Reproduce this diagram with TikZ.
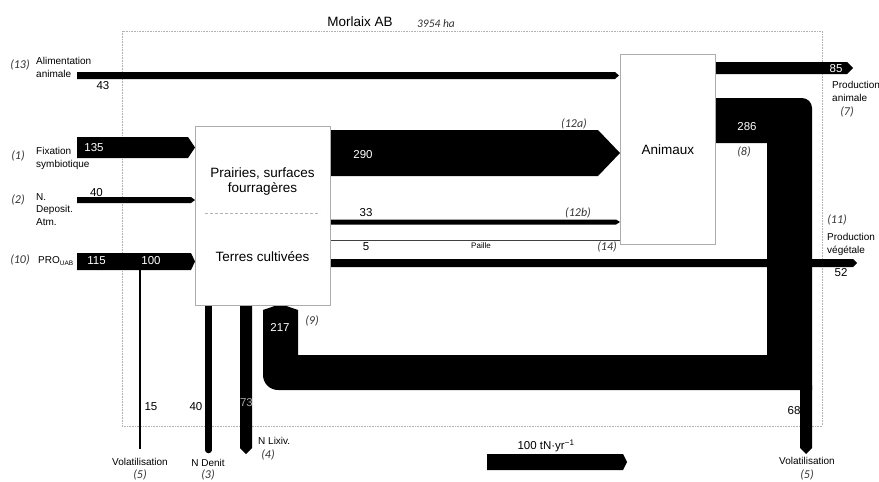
\documentclass[tikz,border=0pt]{standalone}
\usepackage{fontspec}
\setmainfont{Liberation Sans}
\newfontfamily\calibri{Carlito}
\begin{document}
\begin{tikzpicture}[x=1pt, y=-1pt,
			flusso/.style={fill=black, draw=none},
			filo/.style={line width=2.4pt, black},
			paglia/.style={line width=0.8pt, black!75},
			scatola/.style={draw=gray!65, line width=0.8pt, fill=white, inner sep=0pt, anchor=north west},
			confine/.style={draw=gray!60, line width=0.6pt, densely dotted},
			divisore/.style={draw=gray!60, line width=0.6pt, densely dashed},
			lab/.style={font=\fontsize{10}{12.5}\selectfont, align=left, inner sep=0pt},
			labc/.style={lab, align=center},
			num/.style={font=\fontsize{11.5}{13}\selectfont, inner sep=0pt},
			numb/.style={num, text=white},
			rif/.style={font=\calibri\itshape\fontsize{12}{14}\selectfont, inner sep=0pt, text=black!80},
			titolo/.style={font=\fontsize{13.5}{16}\selectfont, align=center, inner sep=0pt},
			]
			
			\useasboundingbox (0,0) rectangle (879,482);
			
			\def\xin{77}      % inizio dei flussi in entrata
			\def\xS{330}      % bordo destro del box suolo
			\def\xA{620}      % bordo sinistro del box animali
			
			%%═══ CONFINE DEL TERRITORIO ══════════════════════════════════════
			\draw[confine] (122,31) rectangle (822,426);
			\node[titolo] (nome) at (360,22) {Morlaix AB};
			\node[rif, font=\calibri\itshape\fontsize{11.5}{13}\selectfont] (sup) at (436,24) {3954 ha};
			
			%%═══ FLUSSI IN ENTRATA ═══════════════════════════════════════════
			% (13) alimentazione animale
			\fill[flusso] (\xin,72) -- (615,72) -- (619,75.5) -- (615,79) -- (\xin,79) -- cycle;
			% (1) fissazione
			\fill[flusso] (\xin,137) -- (188,137) -- (195,147.5) -- (188,158) -- (\xin,158) -- cycle;
			% (2) deposizione atmosferica
			\fill[flusso] (\xin,197) -- (191,197) -- (195,200) -- (191,203) -- (\xin,203) -- cycle;
			% (10) PRO
			\fill[flusso] (\xin,253) -- (191,253) -- (195,261.5) -- (191,270) -- (\xin,270) -- cycle;
			% (5) volatilizzazione dei PRO
			\draw[filo] (140,270) -- (140,449);
			
			%%═══ FLUSSI INTERNI ══════════════════════════════════════════════
			% (12a) foraggi verso gli animali
			\fill[flusso] (\xS,130) -- (598,130) -- (\xA,153) -- (598,176) -- (\xS,176) -- cycle;
			% (12b) concentrati
			\fill[flusso] (\xS,219.5) -- (616,219.5) -- (\xA,222) -- (616,224.5) -- (\xS,224.5) -- cycle;
			% (14) paglia
			\draw[paglia] (\xS,240) -- (\xA,240);
			% (11) produzione vegetale
			\fill[flusso] (\xS,259) -- (853,259) -- (857,263) -- (853,267) -- (\xS,267) -- cycle;
			% (8) effluenti 286, ritorno (9) 217 e volatilizzazione 68
			\fill[flusso] (715,98) -- (802,98) arc (270:360:10) -- (812,390) -- (278,390) arc (90:180:15)
				-- (263,310) -- (280.5,304) -- (298,310) -- (298,355) -- (767,355) -- (767,143) -- (715,143) -- cycle;
			\fill[flusso] (800,385) -- (812,385) -- (812,448) -- (806,454) -- (800,448) -- cycle;
			% (7) produzione animale
			\fill[flusso] (715,62) -- (847,62) -- (853,68) -- (847,74) -- (715,74) -- cycle;
			
			%%═══ PERDITE DAL SUOLO ═══════════════════════════════════════════
			\draw[line width=6.5pt, line cap=round] (208.5,300) -- (208.5,450);
			\fill[flusso] (240,300) -- (252,300) -- (252,448) -- (246,454) -- (240,448) -- cycle;
			
			%%═══ COMPARTIMENTI ═══════════════════════════════════════════════
			\node[scatola, minimum width=135pt, minimum height=179pt] (suolo) at (195,126) {};
			\draw[divisore] (205,213) -- (320,213);
			\node[titolo] (prairies) at (262.5,182) {Prairies, surfaces\\[-1pt]fourragères};
			\node[titolo] (terres) at (262.5,257) {Terres cultivées};
			\node[scatola, minimum width=95pt, minimum height=190pt] (animaux) at (\xA,54) {};
			\node[titolo] (anim) at (animaux.center) {Animaux};
			
			%%═══ ETICHETTE A SINISTRA ════════════════════════════════════════
			\node[rif] (r13) at (20,65) {(13)};
			\node[lab, anchor=west] (alim) at (36,67.5) {Alimentation\\animale};
			\node[num] (v43) at (103,86) {43};
			\node[rif] (r1) at (18,156) {(1)};
			\node[lab, anchor=west] (fix) at (36,158.5) {Fixation\\symbiotique};
			\node[numb] (v135) at (94,147.5) {135};
			\node[rif] (r2) at (18,200) {(2)};
			\node[lab, anchor=west] (dep) at (36,209.5) {N.\\Deposit.\\Atm.};
			\node[num] (v40a) at (96.5,192.5) {40};
			\node[rif] (r10) at (20,260) {(10)};
			\node[lab, anchor=west] (pro) at (38,261) {PRO\textsubscript{\fontsize{6.5}{7}\selectfont UAB}};
			\node[numb] (v115) at (96.5,261) {115};
			\node[numb] (v100) at (151,261) {100};
			
			%%═══ ETICHETTE IN BASSO ══════════════════════════════════════════
			\node[num] (v15) at (151,407) {15};
			\node[num] (v40b) at (196,407) {40};
			\node[num, text=gray!70] (v73) at (246.5,403) {73};
			\node[labc] (vol1) at (140,462) {Volatilisation};
			\node[rif] (r5a) at (140,475) {(5)};
			\node[labc] (den) at (208,463) {N Denit};
			\node[rif] (r3) at (208,475) {(3)};
			\node[lab, anchor=west] (lix) at (258,441) {N Lixiv.};
			\node[rif] (r4) at (268,455) {(4)};
			\node[numb] (v217) at (280,327) {217};
			\node[rif] (r9) at (312,321) {(9)};
			
			%%═══ ETICHETTE AL CENTRO E A DESTRA ══════════════════════════════
			\node[rif] (r12a) at (574,124) {(12a)};
			\node[numb] (v290) at (363,155) {290};
			\node[num] (v33) at (366,213) {33};
			\node[rif] (r12b) at (578,213) {(12b)};
			\node[num] (v5) at (366,247) {5};
			\node[lab, font=\fontsize{8}{9}\selectfont] (paille) at (481,246) {Paille};
			\node[rif] (r14) at (607,247) {(14)};
			\node[numb] (v286) at (747,127) {286};
			\node[rif] (r8) at (744,152) {(8)};
			\node[numb] (v85) at (836,69) {85};
			\node[lab, anchor=west] (pan) at (832,91.5) {Production\\animale};
			\node[rif] (r7) at (847,112) {(7)};
			\node[rif] (r11) at (837,220) {(11)};
			\node[lab, anchor=west] (pveg) at (827,244.5) {Production\\végétale};
			\node[num] (v52) at (841,273) {52};
			\node[num] (v68) at (794,411) {68};
			\node[labc] (vol2) at (807,461) {Volatilisation};
			\node[rif] (r5b) at (807,475) {(5)};
			
			%%═══ LEGENDA ═════════════════════════════════════════════════════
			\fill[flusso] (487,454) -- (623,454) -- (627,462) -- (623,470) -- (487,470) -- cycle;
			\node[num] (leg) at (546,446) {100 tN·yr\textsuperscript{−1}};
			
		\end{tikzpicture}
\end{document}
